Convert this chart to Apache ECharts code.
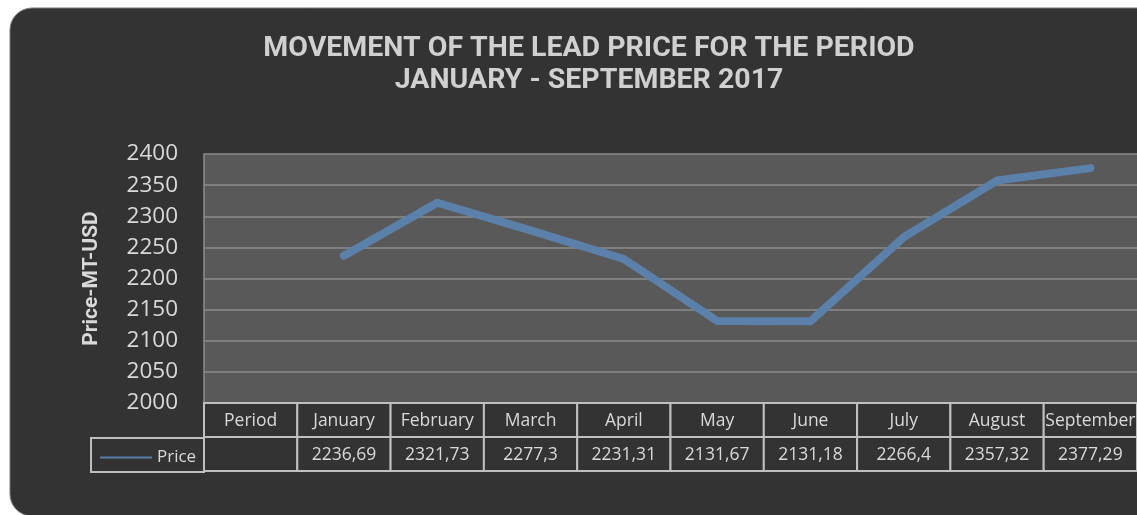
<!DOCTYPE html>
<html>
<head>
<meta charset="utf-8">
<script src="https://cdn.jsdelivr.net/npm/echarts@6/dist/echarts.min.js"></script>
<style>
html,body{margin:0;padding:0;background:#ffffff;}
#chart{width:1137px;height:515px;}
</style>
</head>
<body>
<div id="chart"></div>
<script>
// ---- data ----
var categories = ['Period','January','February','March','April','May','June','July','August','September'];
var priceValues = [null, 2236.69, 2321.73, 2277.3, 2231.31, 2131.67, 2131.18, 2266.4, 2357.32, 2377.29];
var seriesName = 'Price';
var yTicks = { min: 2000, max: 2400, interval: 50 };
var titleLines = ['MOVEMENT OF THE LEAD PRICE FOR THE PERIOD', 'JANUARY - SEPTEMBER 2017'];
var yAxisTitle = 'Price-MT-USD';

function fmt(v){ return v == null ? '' : String(v).replace('.', ','); }

var txt = '#d9d9d9';
var border = '#bfbfbf';
var lineColor = '#5b80aa';

var chart = echarts.init(document.getElementById('chart'), null, {renderer:'canvas'});
var tableData = categories.map(function(c, i){ return [i, c, fmt(priceValues[i])]; });

var option = {
  backgroundColor: 'transparent',
  animation: false,
  title: {
    text: titleLines.join('\n'),
    left: 584,
    textAlign: 'center',
    top: 28,
    textStyle: { color: '#d0d0d0', fontFamily: 'Roboto', fontWeight: 'bold', fontSize: 28.5, lineHeight: 32 }
  },
  legend: {
    data: [{ name: seriesName, icon: 'rect' }],
    left: 95, top: 444,
    itemWidth: 52, itemHeight: 2, itemGap: 5,
    textStyle: { color: txt, fontFamily: 'Open Sans', fontSize: 17 }
  },
  graphic: [
    { type: 'rect', z: -100, silent: true,
      shape: { x: 10, y: 8, width: 1150, height: 508, r: 22 },
      style: { fill: '#333333', stroke: '#777777', lineWidth: 1 } },
    { type: 'rect', z: 10, silent: true,
      shape: { x: 91, y: 438, width: 113, height: 34 },
      style: { fill: 'none', stroke: border, lineWidth: 2 } }
  ],
  grid: [
    { left: 204, right: 0, top: 154, height: 249, show: true, backgroundColor: '#595959', borderWidth: 0 },
    { left: 204, right: 0, top: 403, height: 68, show: false }
  ],
  xAxis: [
    { type: 'category', gridIndex: 0, data: categories, boundaryGap: true,
      axisLine: { show: false }, axisTick: { show: false }, axisLabel: { show: false }, splitLine: { show: false } },
    { type: 'category', gridIndex: 1, data: categories, boundaryGap: true, show: false }
  ],
  yAxis: [
    { type: 'value', gridIndex: 0, min: yTicks.min, max: yTicks.max, interval: yTicks.interval,
      axisLine: { show: true, lineStyle: { color: '#8c8c8c', width: 1.5 } },
      axisTick: { show: false },
      axisLabel: { color: txt, fontFamily: 'Open Sans', fontSize: 22.5, margin: 26,
        formatter: function(v){ return String(v); } },
      splitLine: { show: true, lineStyle: { color: '#8c8c8c', width: 1.5 } },
      name: yAxisTitle, nameLocation: 'middle', nameRotate: 90, nameGap: 102,
      nameTextStyle: { color: txt, fontFamily: 'Roboto', fontWeight: 'bold', fontSize: 21 } },
    { type: 'value', gridIndex: 1, min: 0, max: 2, show: false }
  ],
  series: [
    { name: seriesName, type: 'line', xAxisIndex: 0, yAxisIndex: 0, data: priceValues,
      symbol: 'none', connectNulls: false,
      lineStyle: { color: lineColor, width: 8, cap: 'round', join: 'round' },
      itemStyle: { color: lineColor } },
    { type: 'custom', xAxisIndex: 1, yAxisIndex: 1, data: tableData, silent: true, z: 5,
      renderItem: function(params, api){
        var i = api.value(0);
        var top = api.coord([i, 2]);
        var mid = api.coord([i, 1]);
        var bot = api.coord([i, 0]);
        var w = api.size([1, 0])[0];
        var x0 = top[0] - w / 2;
        var d = tableData[params.dataIndex];
        return { type: 'group', children: [
          { type: 'rect', shape: { x: x0, y: top[1], width: w, height: mid[1] - top[1] },
            style: { fill: '#333333', stroke: border, lineWidth: 2 } },
          { type: 'rect', shape: { x: x0, y: mid[1], width: w, height: bot[1] - mid[1] },
            style: { fill: '#333333', stroke: border, lineWidth: 2 } },
          { type: 'text', style: { x: top[0], y: (top[1] + mid[1]) / 2 + 1, text: d[1], fill: txt,
            font: '17.5px "Open Sans"', align: 'center', verticalAlign: 'middle' } },
          { type: 'text', style: { x: top[0], y: (mid[1] + bot[1]) / 2 + 1, text: d[2], fill: txt,
            font: '17.5px "Open Sans"', align: 'center', verticalAlign: 'middle' } }
        ]};
      }
    }
  ]
};
chart.setOption(option);
</script>
</body>
</html>
